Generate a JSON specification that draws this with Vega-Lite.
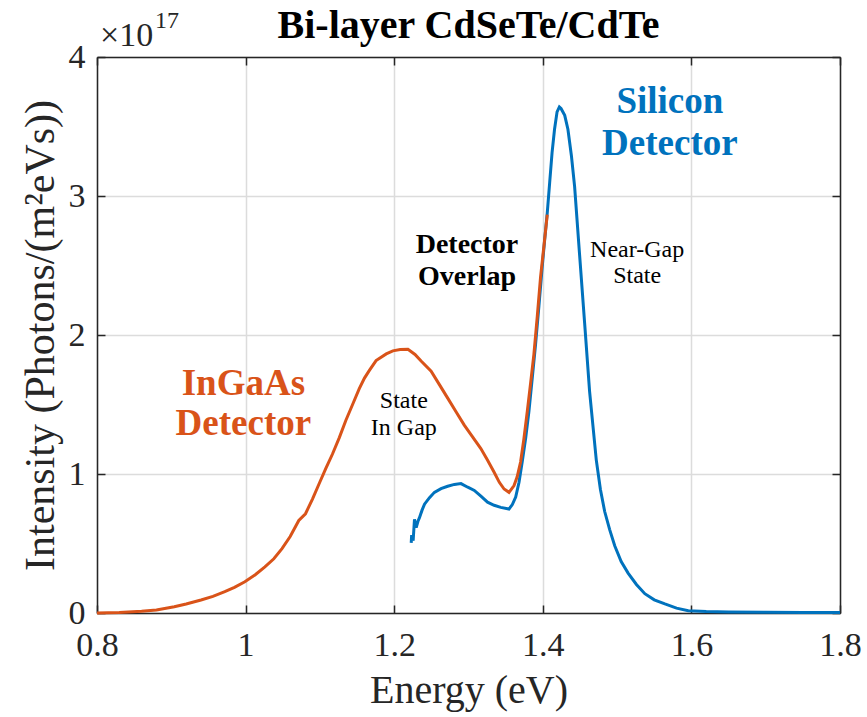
{
  "$schema": "https://vega.github.io/schema/vega-lite/v6.json",
  "width": 743,
  "height": 556,
  "autosize": {"type": "none"},
  "padding": {"left": 97, "top": 57, "right": 27, "bottom": 104},
  "background": "white",
  "title": {"text": "Bi-layer CdSeTe/CdTe", "font": "Liberation Serif", "fontSize": 40, "fontWeight": "bold", "color": "#000000", "anchor": "middle", "offset": 0, "dy": 37},
  "config": {
    "view": {"stroke": null},
    "axis": {"domainColor": "#262626", "domainWidth": 1.5, "tickColor": "#262626", "tickWidth": 1.5, "tickSize": -8, "gridColor": "#dcdcdc", "gridWidth": 1.5, "labelFont": "Liberation Serif", "labelFontSize": 34, "labelColor": "#262626", "labelFlush": false, "labelOverlap": false, "titleFont": "Liberation Serif", "titleFontSize": 40, "titleFontWeight": "normal", "titleColor": "#262626"},
    "axisBottom": {"labelPadding": 23, "titlePadding": 8},
    "axisLeft": {"labelPadding": 20, "titlePadding": 15, "titleBaseline": "alphabetic", "titleFontSize": 42}
  },
  "datasets": {
    "silicon": [
      {"E": 1.2229, "I": 0.504}, {"E": 1.2235, "I": 0.56}, {"E": 1.2255, "I": 0.52}, {"E": 1.2273, "I": 0.674}, {"E": 1.2296, "I": 0.614}, {"E": 1.232, "I": 0.66}, {"E": 1.234, "I": 0.686}, {"E": 1.2375, "I": 0.74}, {"E": 1.2408, "I": 0.783}, {"E": 1.2475, "I": 0.83}, {"E": 1.2541, "I": 0.868}, {"E": 1.263, "I": 0.895}, {"E": 1.272, "I": 0.912}, {"E": 1.281, "I": 0.925}, {"E": 1.2899, "I": 0.931}, {"E": 1.299, "I": 0.905}, {"E": 1.3078, "I": 0.882}, {"E": 1.3167, "I": 0.84}, {"E": 1.3256, "I": 0.797}, {"E": 1.3345, "I": 0.775}, {"E": 1.3434, "I": 0.76}, {"E": 1.3545, "I": 0.748}, {"E": 1.359, "I": 0.78}, {"E": 1.3635, "I": 0.834}, {"E": 1.368, "I": 0.94}, {"E": 1.3724, "I": 1.091}, {"E": 1.377, "I": 1.26}, {"E": 1.3813, "I": 1.45}, {"E": 1.3858, "I": 1.69}, {"E": 1.3903, "I": 1.934}, {"E": 1.3948, "I": 2.21}, {"E": 1.3992, "I": 2.49}, {"E": 1.4026, "I": 2.69}, {"E": 1.406, "I": 2.878}, {"E": 1.4093, "I": 3.1}, {"E": 1.4125, "I": 3.314}, {"E": 1.4158, "I": 3.48}, {"E": 1.4192, "I": 3.605}, {"E": 1.4223, "I": 3.641}, {"E": 1.4245, "I": 3.63}, {"E": 1.4295, "I": 3.58}, {"E": 1.4338, "I": 3.48}, {"E": 1.4385, "I": 3.29}, {"E": 1.4428, "I": 3.07}, {"E": 1.4495, "I": 2.578}, {"E": 1.4563, "I": 2.085}, {"E": 1.463, "I": 1.593}, {"E": 1.472, "I": 1.1}, {"E": 1.4775, "I": 0.89}, {"E": 1.4833, "I": 0.73}, {"E": 1.49, "I": 0.6}, {"E": 1.4968, "I": 0.484}, {"E": 1.5055, "I": 0.37}, {"E": 1.5148, "I": 0.287}, {"E": 1.526, "I": 0.205}, {"E": 1.5373, "I": 0.139}, {"E": 1.55, "I": 0.095}, {"E": 1.5643, "I": 0.065}, {"E": 1.58, "I": 0.035}, {"E": 1.5958, "I": 0.016}, {"E": 1.62, "I": 0.01}, {"E": 1.65, "I": 0.007}, {"E": 1.7, "I": 0.005}, {"E": 1.75, "I": 0.004}, {"E": 1.8, "I": 0.003}
    ],
    "ingaas": [
      {"E": 0.8, "I": 0.0}, {"E": 0.83, "I": 0.003}, {"E": 0.86, "I": 0.012}, {"E": 0.88, "I": 0.022}, {"E": 0.904, "I": 0.045}, {"E": 0.92, "I": 0.065}, {"E": 0.94, "I": 0.094}, {"E": 0.956, "I": 0.12}, {"E": 0.972, "I": 0.153}, {"E": 0.985, "I": 0.185}, {"E": 0.999, "I": 0.225}, {"E": 1.013, "I": 0.275}, {"E": 1.026, "I": 0.332}, {"E": 1.038, "I": 0.39}, {"E": 1.049, "I": 0.463}, {"E": 1.06, "I": 0.55}, {"E": 1.0716, "I": 0.666}, {"E": 1.0806, "I": 0.714}, {"E": 1.09, "I": 0.82}, {"E": 1.0988, "I": 0.928}, {"E": 1.108, "I": 1.04}, {"E": 1.1168, "I": 1.142}, {"E": 1.126, "I": 1.26}, {"E": 1.135, "I": 1.387}, {"E": 1.144, "I": 1.5}, {"E": 1.153, "I": 1.614}, {"E": 1.16, "I": 1.69}, {"E": 1.1666, "I": 1.745}, {"E": 1.1756, "I": 1.816}, {"E": 1.1893, "I": 1.864}, {"E": 1.1982, "I": 1.886}, {"E": 1.208, "I": 1.895}, {"E": 1.2185, "I": 1.897}, {"E": 1.228, "I": 1.86}, {"E": 1.2362, "I": 1.813}, {"E": 1.2497, "I": 1.74}, {"E": 1.26, "I": 1.65}, {"E": 1.272, "I": 1.546}, {"E": 1.283, "I": 1.45}, {"E": 1.2943, "I": 1.352}, {"E": 1.305, "I": 1.27}, {"E": 1.3166, "I": 1.183}, {"E": 1.3255, "I": 1.1}, {"E": 1.3345, "I": 1.013}, {"E": 1.3415, "I": 0.94}, {"E": 1.3479, "I": 0.892}, {"E": 1.3545, "I": 0.868}, {"E": 1.3613, "I": 0.917}, {"E": 1.3655, "I": 0.98}, {"E": 1.3701, "I": 1.086}, {"E": 1.3745, "I": 1.25}, {"E": 1.3791, "I": 1.45}, {"E": 1.3835, "I": 1.65}, {"E": 1.388, "I": 1.861}, {"E": 1.3925, "I": 2.13}, {"E": 1.397, "I": 2.418}, {"E": 1.4015, "I": 2.64}, {"E": 1.406, "I": 2.866}
    ],
    "ingaasLabel": [{"E": 0.997, "I": 1.568, "label": "InGaAs"}, {"E": 0.997, "I": 1.281, "label": "Detector"}],
    "siliconLabel": [{"E": 1.571, "I": 3.597, "label": "Silicon"}, {"E": 1.571, "I": 3.295, "label": "Detector"}],
    "overlapLabel": [{"E": 1.298, "I": 2.59, "label": "Detector"}, {"E": 1.298, "I": 2.36, "label": "Overlap"}],
    "stateLabel": [{"E": 1.213, "I": 1.475, "label": "State"}, {"E": 1.213, "I": 1.281, "label": "In Gap"}, {"E": 1.527, "I": 2.561, "label": "Near-Gap"}, {"E": 1.527, "I": 2.374, "label": "State"}]
  },
  "layer": [
    {
      "data": {"name": "silicon"},
      "mark": {"type": "line", "color": "#0072BD", "strokeWidth": 3},
      "encoding": {
        "x": {"field": "E", "type": "quantitative", "scale": {"domain": [0.8, 1.8], "nice": false, "zero": false}, "axis": {"orient": "bottom", "values": [0.8, 1, 1.2, 1.4, 1.6, 1.8], "format": "~g", "grid": true, "title": "Energy (eV)"}},
        "y": {"field": "I", "type": "quantitative", "scale": {"domain": [0, 4], "nice": false}, "axis": {"orient": "left", "values": [0, 1, 2, 3, 4], "format": "d", "grid": true, "title": "Intensity (Photons/(m²eVs))"}}
      }
    },
    {
      "data": {"name": "ingaas"},
      "mark": {"type": "line", "color": "#D95319", "strokeWidth": 3},
      "encoding": {
        "x": {"field": "E", "type": "quantitative", "axis": {"orient": "top", "values": [0.8, 1, 1.2, 1.4, 1.6, 1.8], "labels": false, "grid": false, "title": null}},
        "y": {"field": "I", "type": "quantitative", "axis": {"orient": "right", "values": [0, 1, 2, 3, 4], "labels": false, "grid": false, "title": null}}
      }
    },
    {
      "data": {"name": "ingaasLabel"},
      "mark": {"type": "text", "font": "Liberation Serif", "fontSize": 37, "fontWeight": "bold", "color": "#D95319", "align": "center", "baseline": "alphabetic"},
      "encoding": {
        "x": {"field": "E", "type": "quantitative", "axis": null},
        "y": {"field": "I", "type": "quantitative", "axis": null},
        "text": {"field": "label"}
      }
    },
    {
      "data": {"name": "siliconLabel"},
      "mark": {"type": "text", "font": "Liberation Serif", "fontSize": 37, "fontWeight": "bold", "color": "#0072BD", "align": "center", "baseline": "alphabetic"},
      "encoding": {
        "x": {"field": "E", "type": "quantitative", "axis": null},
        "y": {"field": "I", "type": "quantitative", "axis": null},
        "text": {"field": "label"}
      }
    },
    {
      "data": {"name": "overlapLabel"},
      "mark": {"type": "text", "font": "Liberation Serif", "fontSize": 28, "fontWeight": "bold", "color": "#000000", "align": "center", "baseline": "alphabetic"},
      "encoding": {
        "x": {"field": "E", "type": "quantitative", "axis": null},
        "y": {"field": "I", "type": "quantitative", "axis": null},
        "text": {"field": "label"}
      }
    },
    {
      "data": {"name": "stateLabel"},
      "mark": {"type": "text", "font": "Liberation Serif", "fontSize": 24, "color": "#000000", "align": "center", "baseline": "alphabetic"},
      "encoding": {
        "x": {"field": "E", "type": "quantitative", "axis": null},
        "y": {"field": "I", "type": "quantitative", "axis": null},
        "text": {"field": "label"}
      }
    },
    {
      "data": {"values": [{}]},
      "mark": {"type": "text", "font": "Liberation Serif", "fontSize": 34, "color": "#262626", "align": "left", "baseline": "alphabetic", "dx": 3, "dy": -11},
      "encoding": {
        "x": {"datum": 0.8, "type": "quantitative", "axis": null},
        "y": {"datum": 4, "type": "quantitative", "axis": null},
        "text": {"value": "×10"}
      }
    },
    {
      "data": {"values": [{}]},
      "mark": {"type": "text", "font": "Liberation Serif", "fontSize": 24, "color": "#262626", "align": "left", "baseline": "alphabetic", "dx": 58, "dy": -29},
      "encoding": {
        "x": {"datum": 0.8, "type": "quantitative", "axis": null},
        "y": {"datum": 4, "type": "quantitative", "axis": null},
        "text": {"value": "17"}
      }
    }
  ],
  "resolve": {"axis": {"x": "independent", "y": "independent"}}
}
